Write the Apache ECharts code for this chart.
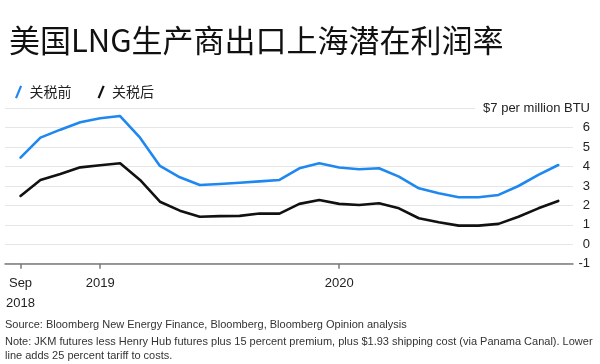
<!DOCTYPE html>
<html>
<head>
<meta charset="utf-8">
<script src="https://cdn.jsdelivr.net/npm/echarts@6/dist/echarts.min.js"></script>
<style>html,body{margin:0;padding:0;background:#fff;}#c{width:600px;height:364px;}</style>
</head>
<body>
<div id="c"></div>
<script>
var months = ['2018-09','2018-10','2018-11','2018-12',
  '2019-01','2019-02','2019-03','2019-04','2019-05','2019-06','2019-07','2019-08','2019-09','2019-10','2019-11','2019-12',
  '2020-01','2020-02','2020-03','2020-04','2020-05','2020-06','2020-07','2020-08','2020-09','2020-10','2020-11','2020-12'];
var beforeTariff = [4.46,5.49,5.9,6.28,
  6.49,6.6,5.49,4.03,3.45,3.05,3.1,3.17,3.24,3.31,3.91,4.17,
  3.95,3.86,3.91,3.48,2.88,2.63,2.42,2.42,2.54,3.0,3.57,4.08];
var afterTariff = [2.49,3.31,3.62,3.96,
  4.07,4.17,3.31,2.19,1.73,1.42,1.45,1.46,1.58,1.58,2.08,2.28,
  2.08,2.02,2.11,1.85,1.34,1.13,0.96,0.96,1.05,1.42,1.85,2.23];
var xTickMonths = ['2018-09','2019-01','2020-01'];
var xTickLabels = ['Sep\n2018','2019','2020'];
var yTopLabel = '$7 per million BTU';
var seriesNames = ['关税前','关税后'];

var tickIdx = xTickMonths.map(function(m){ return months.indexOf(m); });
function pairs(arr){ return arr.map(function(v,i){ return [i,v]; }); }

var chart = echarts.init(document.getElementById('c'), null, {renderer:'canvas'});
var latin = 'Liberation Sans, Arial, sans-serif';
chart.setOption({
  animation: false,
  backgroundColor: '#fff',
  title: {
    text: '美国LNG生产商出口上海潜在利润率',
    left: 4, top: 20,
    textStyle: {fontSize: 31, fontWeight: 'normal', color: '#111', fontFamily: 'Noto Sans CJK SC'}
  },
  legend: {
    left: 10, top: 80,
    itemWidth: 8, itemHeight: 13, itemGap: 26,
    icon: 'path://M0,12L5,0L7,0.8L2,12.8Z',
    textStyle: {fontSize: 14, color: '#222', fontFamily: 'Noto Sans CJK SC', padding: [0,0,0,2]},
    data: seriesNames
  },
  grid: {left: 5, right: 27, top: 108.3, bottom: 100.3},
  xAxis: {
    type: 'value',
    min: -0.78, max: 27.74,
    axisLine: {show: true, onZero: false, lineStyle: {color: '#7a7a7a', width: 1.5}},
    axisTick: {show: true, customValues: tickIdx, length: 5, lineStyle: {color: '#7a7a7a', width: 1.5}},
    axisLabel: {
      show: true, customValues: tickIdx, margin: 10,
      fontSize: 13, color: '#222', fontFamily: latin, lineHeight: 20,
      formatter: function(v){ var k = tickIdx.indexOf(Math.round(v)); return k >= 0 ? xTickLabels[k] : ''; }
    },
    splitLine: {show: false}
  },
  yAxis: {
    type: 'value', position: 'right',
    min: -1, max: 7, interval: 1,
    axisLine: {show: false}, axisTick: {show: false},
    splitLine: {lineStyle: {color: '#e6e6e6', width: 1}},
    axisLabel: {
      align: 'right', margin: 17, fontSize: 13, color: '#222', fontFamily: latin,
      formatter: function(v){ return v === 7 ? '{u|' + yTopLabel + '}' : String(v); },
      rich: {u: {fontSize: 13, color: '#222', fontFamily: latin, backgroundColor: '#fff', padding: [2,0,2,8]}}
    }
  },
  series: [
    {name: seriesNames[0], type: 'line', data: pairs(beforeTariff), showSymbol: false, color: '#1e88f0',
     lineStyle: {width: 2.6, color: '#1e88f0', join: 'round', cap: 'round'}},
    {name: seriesNames[1], type: 'line', data: pairs(afterTariff), showSymbol: false, color: '#111',
     lineStyle: {width: 2.6, color: '#111', join: 'round', cap: 'round'}}
  ],
  graphic: [
    {type: 'text', left: 5, top: 319, style: {text: 'Source: Bloomberg New Energy Finance, Bloomberg, Bloomberg Opinion analysis', fontSize: 11, fill: '#333', fontFamily: latin}},
    {type: 'text', left: 5, top: 335, style: {text: 'Note: JKM futures less Henry Hub futures plus 15 percent premium, plus $1.93 shipping cost (via Panama Canal). Lower\nline adds 25 percent tariff to costs.', fontSize: 11, lineHeight: 14, fill: '#333', fontFamily: latin}}
  ]
});
</script>
</body>
</html>
